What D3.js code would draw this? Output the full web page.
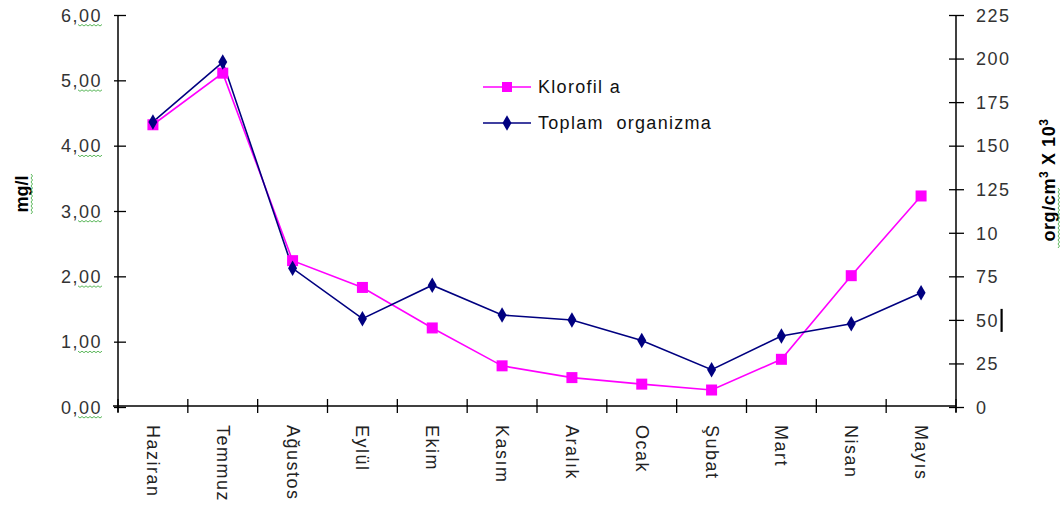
<!DOCTYPE html>
<html>
<head>
<meta charset="utf-8">
<script src="https://d3js.org/d3.v7.min.js"></script>
<style>
  body { margin: 0; background: #fff; }
  svg text { font-family: "Liberation Sans", Arial, sans-serif; }
</style>
</head>
<body>
<div id="chart"></div>
<script>
// chart values
var months = ["Haziran", "Temmuz", "Ağustos", "Eylül", "Ekim", "Kasım",
              "Aralık", "Ocak", "Şubat", "Mart", "Nisan", "Mayıs"];
var klorofil = [4.32, 5.11, 2.24, 1.83, 1.21, 0.63, 0.45, 0.35, 0.26, 0.73, 2.01, 3.23];
var organizma = [163.6, 198, 79.6, 50.7, 69.9, 52.8, 49.9, 38.2, 21.4, 40.8, 47.8, 65.6];
var leftTicks = [0, 1, 2, 3, 4, 5, 6];
var rightTicks = [0, 25, 50, 75, 100, 125, 150, 175, 200, 225];
var rightTickLabels = ["0", "25", "50", "75", "10", "125", "150", "175", "200", "225"];
var seriesNames = ["Klorofil a", "Toplam  organizma"];

var width = 1063, height = 511;
var plotLeft = 118, plotRight = 956, plotTop = 15, plotBottom = 407;
var pink = "#ff00ff", navy = "#000080";

var svg = d3.select("#chart").append("svg")
    .attr("width", width)
    .attr("height", height);

var x = d3.scaleBand().domain(months).range([plotLeft, plotRight]);
var yL = d3.scaleLinear().domain([0, 6]).range([plotBottom, plotTop]);
var yR = d3.scaleLinear().domain([0, 225]).range([plotBottom, plotTop]);

// green spell-check wave
function squiggle(g, x0, x1, y) {
    var pts = [];
    for (var px = x0, k = 0; px <= x1; px += 2, k++) pts.push([px, y + (k % 2 ? 1.5 : 0)]);
    g.append("path").attr("d", d3.line()(pts))
        .attr("fill", "none").attr("stroke", "#5cb85c").attr("stroke-width", 1);
}

// left axis
var gl = svg.append("g")
    .attr("transform", "translate(" + plotLeft + ",0)")
    .call(d3.axisLeft(yL).tickValues(leftTicks).tickSize(0).tickPadding(16)
        .tickFormat(d => d3.format(".2f")(d).replace(".", ",")));
gl.select(".domain").attr("stroke", "#000").attr("stroke-width", 1.5)
    .attr("d", "M0," + plotTop + "V" + (plotBottom + 5));
gl.selectAll(".tick line").attr("x1", -4).attr("x2", 8).attr("stroke", "#000").attr("stroke-width", 1.3);
gl.selectAll(".tick text").attr("font-size", 18).attr("fill", "#333")
    .style("letter-spacing", "1.5px").attr("dy", "0.35em");
gl.selectAll(".tick").each(function () {
    squiggle(d3.select(this), -40, -16, 9);
});

// right axis
var gr = svg.append("g")
    .attr("transform", "translate(" + plotRight + ",0)")
    .call(d3.axisRight(yR).tickValues(rightTicks).tickSize(0).tickPadding(20)
        .tickFormat((d, i) => rightTickLabels[i]));
gr.select(".domain").attr("stroke", "#000").attr("stroke-width", 1.5)
    .attr("d", "M0," + plotTop + "V" + (plotBottom + 5));
gr.selectAll(".tick line").attr("x1", -7).attr("x2", 8).attr("stroke", "#000").attr("stroke-width", 1.3);
gr.selectAll(".tick text").attr("font-size", 18).attr("fill", "#333")
    .style("letter-spacing", "1.5px").attr("dy", "0.35em");

// text cursor after "50"
svg.append("rect")
    .attr("x", 1000.5).attr("y", yR(50) - 11).attr("width", 2.2).attr("height", 23)
    .attr("fill", "#000");

// bottom axis
var gb = svg.append("g")
    .attr("transform", "translate(0," + (plotBottom - 1) + ")");
gb.append("line").attr("x1", plotLeft - 5).attr("x2", plotRight).attr("stroke", "#000").attr("stroke-width", 1.5);
var bounds = months.map(m => x(m)).concat([plotRight]);
gb.selectAll(".tk").data(bounds).enter().append("line")
    .attr("x1", d => d).attr("x2", d => d).attr("y1", -7).attr("y2", 7)
    .attr("stroke", "#000").attr("stroke-width", 1.3);
gb.selectAll(".lab").data(months).enter().append("text")
    .attr("transform", d => "translate(" + (x(d) + x.bandwidth() / 2 - 6) + ",19) rotate(90)")
    .attr("font-size", 18).attr("fill", "#222").style("letter-spacing", "1.5px")
    .text(d => d);

// axis titles
var tl = svg.append("g").attr("transform", "translate(28,194) rotate(-90)");
tl.append("text").attr("text-anchor", "middle").attr("font-size", 18).attr("font-weight", "bold")
    .text("mg/l");
squiggle(tl, -20, 20, 3);

var tr = svg.append("g").attr("transform", "translate(1055,180) rotate(-90)");
var trt = tr.append("text").attr("text-anchor", "middle").attr("font-size", 18).attr("font-weight", "bold")
    .style("letter-spacing", "0.6px");
trt.append("tspan").text("org/cm");
trt.append("tspan").attr("font-size", 12).attr("dy", -7).text("3");
trt.append("tspan").attr("dy", 7).text(" X 10");
trt.append("tspan").attr("font-size", 12).attr("dy", -7).text("3");
squiggle(tr, -68, -8, 3);

// lines
var cx = (d, i) => x(months[i]) + x.bandwidth() / 2;
var lineL = d3.line().x(cx).y(d => yL(d));
var lineR = d3.line().x(cx).y(d => yR(d));

svg.append("path").datum(klorofil).attr("d", lineL)
    .attr("fill", "none").attr("stroke", pink).attr("stroke-width", 1.6);
svg.append("path").datum(organizma).attr("d", lineR)
    .attr("fill", "none").attr("stroke", navy).attr("stroke-width", 1.6);

svg.selectAll(".sq").data(klorofil).enter().append("rect")
    .attr("x", (d, i) => cx(d, i) - 5.5)
    .attr("y", d => yL(d) - 5.5)
    .attr("width", 11).attr("height", 11).attr("fill", pink);

var diamond = d3.symbol().type(d3.symbolDiamond).size(70);
svg.selectAll(".dm").data(organizma).enter().append("path")
    .attr("d", diamond)
    .attr("transform", (d, i) => "translate(" + cx(d, i) + "," + yR(d) + ")")
    .attr("fill", navy);

// legend
var legend = svg.append("g").attr("transform", "translate(483,87)");
var items = legend.selectAll("g").data(seriesNames).enter().append("g")
    .attr("transform", (d, i) => "translate(0," + i * 36 + ")");
items.append("line").attr("x1", 0).attr("x2", 48)
    .attr("stroke", (d, i) => i ? navy : pink).attr("stroke-width", 1.6);
items.each(function (d, i) {
    var g = d3.select(this);
    if (i === 0) {
        g.append("rect").attr("x", 19).attr("y", -5).attr("width", 10).attr("height", 10).attr("fill", pink);
    } else {
        g.append("path").attr("d", diamond).attr("transform", "translate(24,0)").attr("fill", navy);
    }
});
items.append("text").attr("x", 55).attr("dy", "0.35em").attr("font-size", 18)
    .attr("fill", "#111").style("letter-spacing", "1.3px").style("white-space", "pre")
    .text(d => d);
</script>
</body>
</html>
